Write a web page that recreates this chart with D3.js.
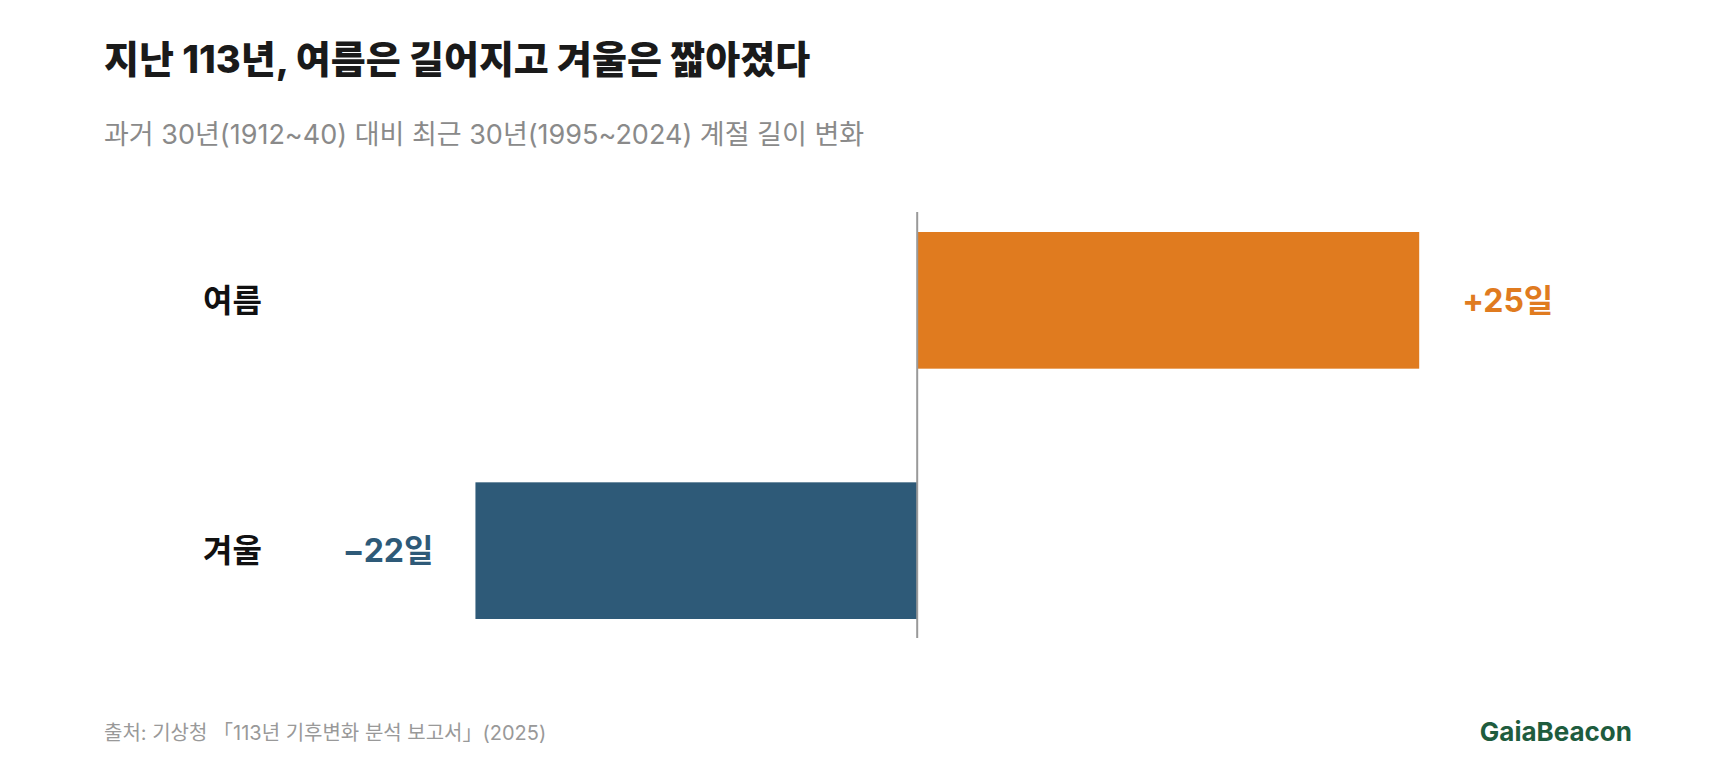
<!DOCTYPE html>
<html><head><meta charset="utf-8">
<script src="https://cdn.jsdelivr.net/npm/d3@7"></script>
<style>body{margin:0;background:#fff}svg{display:block}text{font-family:Inter,"Noto Sans CJK KR",sans-serif}</style>
</head><body><svg id="c" width="1720" height="760"></svg>
<script>
const categories = ["여름", "겨울"];
const values = [25, -22];
const valueLabels = ["+25일", "\u221222일"];
const colors = ["#E07B1F", "#2E5A78"];

const svg = d3.select("#c");
const x = d3.scaleLinear().domain([-40, 35]).range([114, 1620]);
const y = d3.scaleBand().domain(categories).range([232, 619]).paddingInner(0.454).paddingOuter(0);

svg.append("text").attr("x",104).attr("y",73).attr("font-size",38).attr("font-weight",800).attr("fill","#1a1a1a")
  .text("지난 113년, 여름은 길어지고 겨울은 짧아졌다");
svg.append("text").attr("x",104).attr("y",144).attr("font-size",27).attr("fill","#8a8a8a")
  .text("과거 30년(1912~40) 대비 최근 30년(1995~2024) 계절 길이 변화");

svg.selectAll("rect.bar").data(values).join("rect").attr("class","bar")
  .attr("x",d=>x(Math.min(0,d))).attr("width",d=>Math.abs(x(d)-x(0)))
  .attr("y",(d,i)=>y(categories[i])).attr("height",y.bandwidth())
  .attr("fill",(d,i)=>colors[i]);

svg.append("line").attr("x1",x(0)).attr("x2",x(0)).attr("y1",212).attr("y2",638)
  .attr("stroke","#999").attr("stroke-width",2);

svg.selectAll("text.cat").data(categories).join("text").attr("class","cat")
  .attr("x",203).attr("y",d=>y(d)+y.bandwidth()/2).attr("dy","0.35em")
  .attr("font-size",32).attr("font-weight",700).attr("fill","#111").text(d=>d);

svg.selectAll("text.val").data(values).join("text").attr("class","val")
  .attr("x",d=>d>0?x(d)+43:x(d)-42).attr("text-anchor",d=>d>0?"start":"end")
  .attr("y",(d,i)=>y(categories[i])+y.bandwidth()/2).attr("dy","0.35em")
  .attr("font-size",32).attr("font-weight",700).attr("fill",(d,i)=>colors[i])
  .text((d,i)=>valueLabels[i]);

svg.append("text").attr("x",104).attr("y",740).attr("font-size",20).attr("fill","#999")
  .text("출처: 기상청 「113년 기후변화 분석 보고서」(2025)");
svg.append("text").attr("x",1632).attr("y",741).attr("text-anchor","end").attr("font-size",26).attr("font-weight",700).attr("fill","#1E5C3E")
  .text("GaiaBeacon");
</script></body></html>
